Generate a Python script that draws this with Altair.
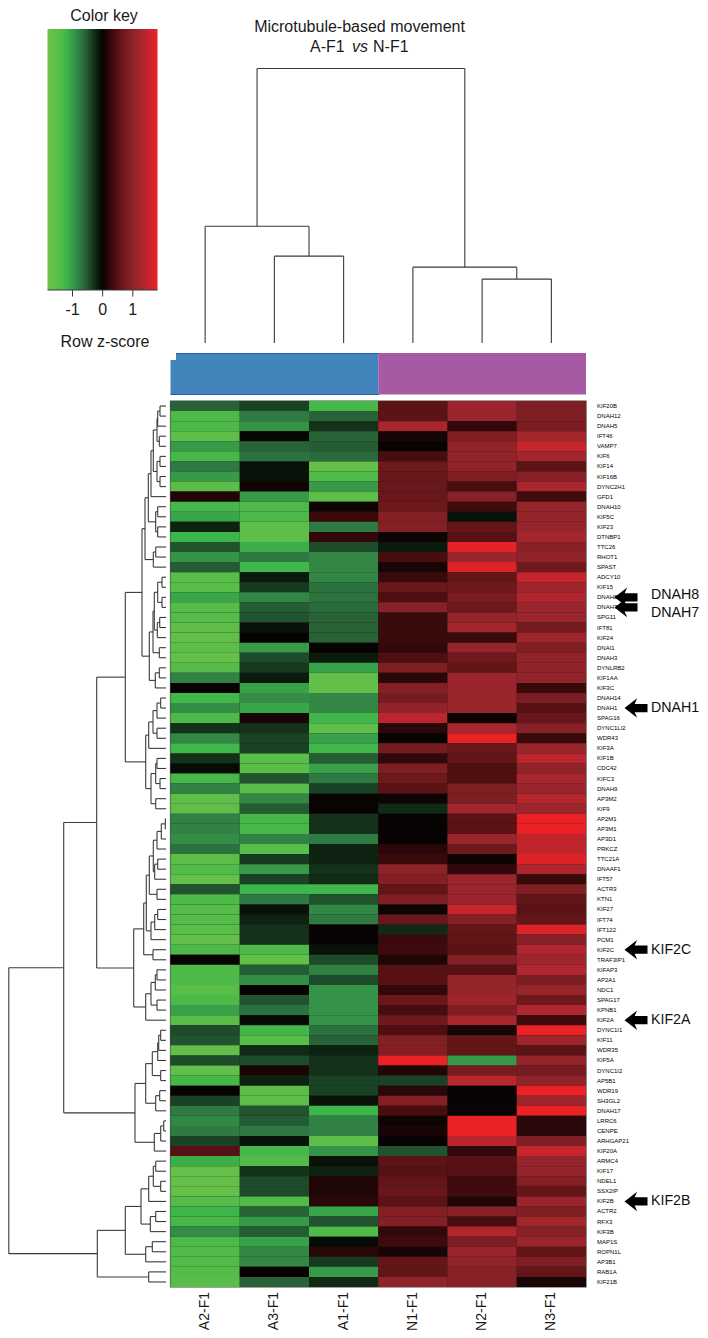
import altair as alt
import pandas as pd

genes = ["KIF20B","DNAH12","DNAH5","IFT46","VAMP7","KIF6","KIF14","KIF16B","DYNC2H1","GFD1",
 "DNAH10","KIF5C","KIF23","DTNBP1","TTC26","RHOT1","SPAST","ADCY10","KIF15","DNAH8",
 "DNAH7","SPG11","IFT81","KIF24","DNAI1","DNAH3","DYNLRB2","KIF1AA","KIF3C","DNAH14",
 "DNAH1","SPAG16","DYNC1LI2","WDR43","KIF3A","KIF1B","CDC42","KIFC3","DNAH9","AP3M2",
 "KIF9","AP2M1","AP3M1","AP3D1","PRKCZ","TTC21A","DNAAF1","IFT57","ACTR3","KTN1",
 "KIF27","IFT74","IFT122","PCM1","KIF2C","TRAF3IP1","KIFAP3","AP2A1","NDC1","SPAG17",
 "KPNB1","KIF2A","DYNC1I1","KIF11","WDR35","KIF5A","DYNC1I2","AP5B1","WDR19","SH3GL2",
 "DNAH17","LRRC6","CENPE","ARHGAP21","KIF20A","ARMC4","KIF17","NDEL1","SSX2IP","KIF2B",
 "ACTR2","RFX3","KIF3B","MAP1S","ROPN1L","AP3B1","RAB1A","KIF21B"]
samples = ["A2-F1","A3-F1","A1-F1","N1-F1","N2-F1","N3-F1"]

A2 = [-.6,-1.35,-1.35,-1.6,-1.0,-1.3,-.75,-1.0,-1.55,.15,-1.3,-1.1,-.2,-1.2,-.5,-.95,-.55,-1.5,-1.5,-1.1,
 -1.45,-1.45,-1.6,-1.65,-1.55,-1.7,-1.45,-.8,0,-1.25,-.9,-1.35,-.3,-.85,-1.25,-.3,-.05,-1.3,-.8,-1.6,
 -1.6,-.8,-.8,-.9,-.7,-1.55,-1.4,-1.7,-.5,-1.35,-1.45,-1.45,-1.5,-1.65,-1.35,0,-1.35,-1.35,-1.5,-1.35,
 -1.05,-1.5,-.45,-.5,-1.65,-.45,-1.65,-1.3,0,-.4,-.75,-.85,-.75,-.4,.5,-1.15,-1.7,-1.7,-1.7,-1.45,
 -1.2,-1.3,-.9,-1.35,-1.4,-1.4,-1.45,-1.5]
A3 = [-.4,-.75,-.95,-.02,-.6,-.7,-.1,-.1,.05,-1.0,-1.35,-1.35,-1.6,-1.6,-1.15,-.75,-1.25,-.15,-.35,-.85,
 -.55,-.5,-.1,0,-1.0,-.45,-.35,-.15,-1.05,-.9,-1.1,.1,-.3,-.4,-.4,-1.5,-1.5,-.5,-1.5,-.85,
 -.55,-1.3,-1.3,-.8,-1.5,-.35,-1.0,-.4,-1.2,-.75,-.1,-.2,-.3,-.3,-1.35,-1.65,-.55,-.9,0,-.5,
 -.7,-.05,-1.25,-1.5,-.25,-.45,.1,-.2,-1.55,-1.55,-.5,-.55,-.75,-.1,-1.3,-1.4,-.3,-.45,-.45,-1.4,
 -.6,-1.0,-.55,-1.05,-.85,-.85,0,-.6]
A1 = [-1.3,-.6,-.3,-.6,-.55,-.65,-1.7,-1.4,-1.0,-1.6,.05,.3,-.75,.25,-.45,-.85,-.85,-.85,-.7,-.7,
 -.65,-.6,-.6,-.6,0,-.15,-1.05,-1.65,-1.65,-.85,-.85,-1.25,-1.6,-1.05,-1.25,-.55,-1.05,-.75,-.4,.02,
 .02,-.3,-.3,-.75,-.2,-.2,-.3,-.25,-1.25,-.5,-.85,-.75,0,0,-.1,-.45,-.8,-.45,-.95,-.95,
 -.95,-.95,-.7,-.6,-.2,-.3,-.3,-.4,-.4,-.1,-1.2,-.8,-.8,-1.55,-.95,-.1,-.2,.15,.15,.2,
 -1.1,-.5,-1.4,-.05,.2,-.35,-1.0,-.25]
N1 = [.55,.55,1.3,.1,0,.4,.7,.65,.65,.65,.7,.9,.9,.05,-.15,.4,.1,.3,.65,.45,
 .95,.3,.3,.3,.25,.45,.85,.2,.9,.75,1.05,1.45,.2,0,.75,.25,.85,.7,.55,.05,
 -.25,0,0,0,.2,.3,1.0,.9,.6,.85,.05,.65,-.25,.3,.35,.15,.5,.5,.25,.65,
 .4,.7,.45,.9,.9,1.8,.15,-.4,.2,.9,.4,.05,.1,0,-.5,.55,.5,.6,.65,.55,
 .9,.9,.25,.35,.1,.6,.6,1.05]
N2 = [1.15,1.15,.25,.85,1.05,1.05,1.05,.85,.4,.95,.35,-.1,.6,.5,1.75,1.15,1.7,.6,.7,.8,
 .7,1.1,1.25,.3,1.1,.7,.6,1.15,1.15,1.15,1.15,.03,1.3,1.8,.65,.6,.45,.45,.85,.85,
 1.25,.55,.55,1.15,.7,.05,.25,1.15,1.15,1.15,1.55,.9,.6,.6,.55,.9,.5,1.1,1.1,1.2,
 .85,1.3,.1,.6,.6,-1.0,.75,1.45,0,0,.02,1.8,1.8,1.45,.25,.5,.5,.35,.35,.15,
 .95,.4,1.35,.8,1.15,1.05,.95,.95]
N3 = [.85,.85,.8,1.25,1.55,1.25,.55,.95,1.3,.35,1.1,1.1,1.1,1.25,.95,1.05,.7,1.55,1.2,1.35,
 1.15,1.15,.75,1.2,.85,1.05,1.05,1.05,.3,.8,.5,.65,.95,.3,1.15,1.45,1.05,1.3,1.15,1.4,
 1.15,1.8,1.8,1.5,1.5,1.7,1.35,.3,.85,.6,.55,.6,1.7,.95,1.35,1.2,1.35,.8,1.1,.7,
 1.35,.35,1.8,1.2,.55,1.1,.75,1.05,1.8,1.2,1.8,.2,.2,.85,1.55,1.1,1.1,.9,.6,1.15,
 .85,1.25,.95,1.15,.6,.85,.6,.1]
columns = [A2, A3, A1, N1, N2, N3]

key_values = [-1.85,-1.45,-1.2,-.95,-.75,-.55,-.35,-.15,0,.2,.45,.75,1.05,1.3,1.55,1.82]
key_colors = ["#6EC24A","#56BC49","#3CB54A","#359348","#2F7A42","#245C33","#17391F","#0A1A0C",
              "#060302","#2A0708","#510E10","#761B20","#91242A","#A9262E","#C7252C","#ED2224"]
key_ticks = [-1, 0, 1]

group_first_column = [0, 3]
group_last_column = [3, 6]
group_colors = ["#4285BD", "#A65AA3"]

# column dendrogram: [merge height, child, child]; ints are column indexes
col_tree = [275, [117, 0, [87, 1, 2]], [76, 3, [64, 4, 5]]]

# row dendrogram: [merge height, child, child]; ints are row indexes
n_top = [12.7,[9,[8.3,[6,0,1],2],[6.7,3,4]],[9,[6,5,6],[6,7,8]]]
e1 = [15,n_top,9]
e2 = [10.3,[8.3,10,11],[8.3,12,13]]
e3 = [12.7,[10.3,14,15],16]
E = [21,[17.7,e1,e2],e3]
f1 = [11.7,[8.3,[4,17,18],[4,19,20]],[8.7,[6.3,21,22],23]]
f2 = [13,f1,[6.7,24,25]]
f3 = [10.7,[6.7,26,27],28]
F = [16.7,f2,f3]
D = [24,E,F]
g1 = [13,[9,[5.3,29,30],31],[9,32,33]]
g2 = [17.3,g1,34]
g3 = [15,[10.3,[9,35,36],[6,37,38]],[10.3,39,40]]
G = [20.3,g2,g3]
C = [40.7,D,G]
h1 = [12.7,[9,[4.7,[.7,41,42],43],44],[11.3,[8.3,45,46],47]]
h2 = [16.7,h1,[9,48,49]]
h3 = [15,[11.3,[8.3,50,51],52],53]
h4 = [19.7,h2,h3]
h5 = [22.3,h4,[13,54,55]]
i1 = [20.3,[15,[10.7,[9,56,57],58],[9,59,60]],61]
H = [32.3,h5,i1]
B = [69.3,C,H]
j1 = [13.7,[8.3,[7.3,[5.3,62,63],64],65],[5.3,66,67]]
j2 = [20.3,j1,[10.3,[6.3,68,69],70]]
j3 = [11.7,[5.3,[2.3,71,72],73],74]
J = [31,j2,j3]
A = [102.3,B,J]
k1 = [17.3,[12.7,[10.3,75,76],[5.3,77,78]],79]
k2 = [15.7,[10.3,80,81],82]
k3 = [25,k1,k2]
k4 = [20.3,[13.7,83,84],85]
k5 = [40.7,k3,k4]
L = [68.7,k5,[17.3,86,87]]
row_tree = [157.2,A,L]

callout_rows = ["DNAH8","DNAH7","DNAH1","KIF2C","KIF2A","KIF2B"]


def segments(node, out):
    """Walk a merge tree; returns (position, height) and appends elbow segments."""
    if isinstance(node, int):
        return node + 0.5, 0.0
    height, a, b = node
    pa, ha = segments(a, out)
    pb, hb = segments(b, out)
    out.append(dict(p=pa, p2=pa, h=ha, h2=height))
    out.append(dict(p=pb, p2=pb, h=hb, h2=height))
    out.append(dict(p=pa, p2=pb, h=height, h2=height))
    return (pa + pb) / 2, height


col_segments, row_segments = [], []
segments(col_tree, col_segments)
segments(row_tree, row_segments)


def p(v):  # page pixel to chart pixel
    return v - 8


FONT = "Liberation Sans"
LINE = "#3a3a3a"
row_ids = list(range(len(genes)))
heat_x = alt.Scale(domain=samples, range=[p(170.5), p(586)], paddingInner=0, paddingOuter=0)
heat_y = alt.Scale(domain=row_ids, range=[p(401), p(1287)], paddingInner=0, paddingOuter=0)
heat_color = alt.Scale(domain=key_values, range=key_colors, interpolate="rgb")
col_pos = alt.Scale(domain=[0, 6], range=[p(170.5), p(586)], nice=False, zero=False)

heat_df = pd.DataFrame([
    dict(sample=s, row=r, z=columns[c][r])
    for c, s in enumerate(samples) for r in row_ids
])
gene_df = pd.DataFrame(dict(row=row_ids, gene=genes))
sample_df = pd.DataFrame(dict(sample=samples))
group_df = pd.DataFrame(dict(a=group_first_column, b=group_last_column, color=group_colors))
call_df = gene_df[gene_df.gene.isin(callout_rows)].copy()

frame = alt.Chart(pd.DataFrame(dict(a=[0], b=[6], c=[0], d=[88]))).mark_rect(
    fill="#1a1a1a", stroke="#444444", strokeWidth=1.2
).encode(
    x=alt.X("a:Q", scale=col_pos, axis=None),
    x2="b:Q",
    y=alt.Y("c:Q", scale=alt.Scale(domain=[0, 88], range=[p(401), p(1287)], nice=False, zero=False), axis=None),
    y2="d:Q",
)

heat = alt.Chart(heat_df).mark_rect().encode(
    x=alt.X("sample:N", scale=heat_x, axis=None),
    y=alt.Y("row:O", scale=heat_y, axis=None),
    color=alt.Color("z:Q", scale=heat_color, legend=None),
)

gene_labels = alt.Chart(gene_df).mark_text(
    align="left", baseline="middle", font=FONT, fontSize=6, color="#000000"
).encode(
    x=alt.value(p(597)),
    y=alt.Y("row:O", scale=heat_y, axis=None),
    text="gene:N",
)

sample_labels = alt.Chart(sample_df).mark_text(
    angle=270, align="right", baseline="middle", font=FONT, fontSize=14, color="#1a1a1a"
).encode(
    x=alt.X("sample:N", scale=heat_x, axis=None),
    y=alt.value(p(1292)),
    text="sample:N",
)

bar = alt.Chart(group_df).mark_rect().encode(
    x=alt.X("a:Q", scale=col_pos, axis=None),
    x2="b:Q",
    y=alt.value(p(353)),
    y2=alt.value(p(394.5)),
    color=alt.Color("color:N", scale=None, legend=None),
)
bar_notch = alt.Chart(pd.DataFrame(dict(k=[0]))).mark_rect(color="white").encode(
    x=alt.value(p(169)), x2=alt.value(p(176)), y=alt.value(p(352)), y2=alt.value(p(360)),
)
bar_edge = alt.Chart(pd.DataFrame(dict(k=[0]))).mark_rule(color="#2A5C9E", strokeWidth=1.2).encode(
    x=alt.value(p(176)), x2=alt.value(p(379)), y=alt.value(p(353.5)),
)
bar_edge2 = alt.Chart(pd.DataFrame(dict(k=[0]))).mark_rule(color="#2A5C9E", strokeWidth=1.2).encode(
    x=alt.value(p(170.5)), x2=alt.value(p(379)), y=alt.value(p(394.5)),
)

col_dend = alt.Chart(pd.DataFrame(col_segments)).mark_rule(color=LINE, strokeWidth=1.1).encode(
    x=alt.X("p:Q", scale=col_pos, axis=None),
    x2="p2:Q",
    y=alt.Y("h:Q", scale=alt.Scale(domain=[0, 275], range=[p(343), p(68.5)], nice=False, zero=False), axis=None),
    y2="h2:Q",
)
row_dend = alt.Chart(pd.DataFrame(row_segments)).mark_rule(color=LINE, strokeWidth=1.1).encode(
    x=alt.X("h:Q", scale=alt.Scale(domain=[0, 165], range=[p(166), p(1)], nice=False, zero=False), axis=None),
    x2="h2:Q",
    y=alt.Y("p:Q", scale=alt.Scale(domain=[0, 88], range=[p(401), p(1287)], nice=False, zero=False), axis=None),
    y2="p2:Q",
)

key_x = alt.Scale(domain=[-1.83, 1.82], range=[p(47.5), p(157.5)], nice=False, zero=False)
span = key_values[-1] - key_values[0]
gradient = alt.Gradient(
    gradient="linear", x1=0, x2=1, y1=0, y2=0,
    stops=[alt.GradientStop(color=c, offset=(v - key_values[0]) / span) for v, c in zip(key_values, key_colors)],
)
key_rect = alt.Chart(pd.DataFrame(dict(lo=[-1.83], hi=[key_values[-1]]))).mark_rect(color=gradient).encode(
    x=alt.X("lo:Q", scale=key_x, axis=None),
    x2="hi:Q",
    y=alt.value(p(29)),
    y2=alt.value(p(290)),
)
tick_df = pd.DataFrame(dict(t=key_ticks, label=["-1", "0", "1"]))
key_line = alt.Chart(pd.DataFrame(dict(k=[0]))).mark_rule(color=LINE, strokeWidth=1).encode(
    x=alt.value(p(47.5)), x2=alt.value(p(157.5)), y=alt.value(p(290)),
)
key_ticks_m = alt.Chart(tick_df).mark_rule(color=LINE, strokeWidth=1).encode(
    x=alt.X("t:Q", scale=key_x, axis=None), y=alt.value(p(290)), y2=alt.value(p(296.5)),
)
key_labels = alt.Chart(tick_df).mark_text(font=FONT, fontSize=16, color="#1a1a1a", baseline="middle").encode(
    x=alt.X("t:Q", scale=key_x, axis=None), y=alt.value(p(309.5)), text="label:N",
)


def label(text, x, y, size=16, align="center", style="normal"):
    return alt.Chart(pd.DataFrame(dict(s=[text]))).mark_text(
        font=FONT, fontSize=size, align=align, baseline="middle", color="#1a1a1a", fontStyle=style
    ).encode(x=alt.value(p(x)), y=alt.value(p(y)), text="s:N")


ARROW = "M-1,0 L0.1,-0.85 L-0.12,-0.36 L1,-0.36 L1,0.36 L-0.12,0.36 L0.1,0.85 Z"


def arrows(names, x):
    d = call_df[call_df.gene.isin(names)]
    return alt.Chart(d).mark_point(shape=ARROW, filled=True, color="black", opacity=1, size=529).encode(
        x=alt.value(p(x)),
        y=alt.Y("row:O", scale=heat_y, axis=None),
    )


def call_text(names, dy=0):
    d = call_df[call_df.gene.isin(names)]
    return alt.Chart(d).mark_text(
        font=FONT, fontSize=14.2, align="left", baseline="middle", color="#111111", dy=dy
    ).encode(
        x=alt.value(p(651)),
        y=alt.Y("row:O", scale=heat_y, axis=None),
        text="gene:N",
    )


layers = [
    frame, heat, gene_labels, sample_labels,
    bar, bar_notch, bar_edge, bar_edge2,
    col_dend, row_dend,
    key_rect, key_line, key_ticks_m, key_labels,
    label("Color key", 104, 16),
    label("Row z-score", 105, 341.5),
    label("Microtubule-based movement", 359.5, 27),
    label("A-F1", 310, 47, align="left"),
    label("vs", 352, 47, align="left", style="italic"),
    label("N-F1", 373, 47, align="left"),
    arrows(["DNAH8", "DNAH7"], 626),
    arrows(["DNAH1", "KIF2C", "KIF2A", "KIF2B"], 636),
    call_text(["DNAH8"], dy=-2),
    call_text(["DNAH7"], dy=6),
    call_text(["DNAH1", "KIF2C", "KIF2A", "KIF2B"]),
]

chart = alt.layer(*layers).resolve_scale(
    x="independent", y="independent", color="independent"
).properties(
    width=692, height=1322, padding=0,
    autosize=alt.AutoSizeParams(type="none"),
    background="white",
).configure_view(stroke=None)

chart.save("out.html", embed_options={"renderer": "svg", "actions": False})
